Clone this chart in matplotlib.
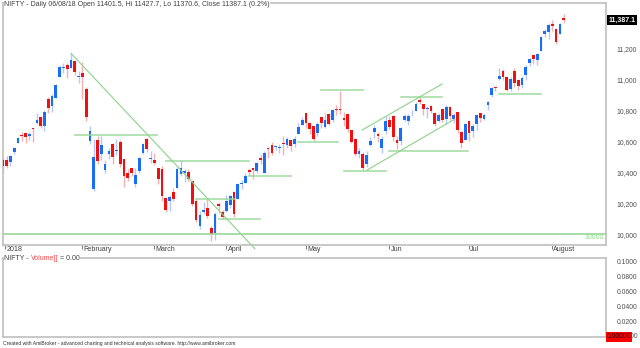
import numpy as np
import pandas as pd
import matplotlib
matplotlib.use('Agg')
import matplotlib.pyplot as plt

# trading days, 2018
jan_days = [1, 2, 3, 4, 5, 8, 9, 10, 11, 12, 15, 16, 17, 18, 19, 22, 23, 24, 25, 29, 30, 31]
feb_days = [1, 2, 5, 6, 7, 8, 9, 12, 14, 15, 16, 19, 20, 21, 22, 23, 26, 27, 28]
mar_days = [1, 5, 6, 7, 8, 9, 12, 13, 14, 15, 16, 19, 20, 21, 22, 23, 26, 27, 28]
apr_days = [2, 3, 4, 5, 6, 9, 10, 11, 12, 13, 16, 17, 18, 19, 20, 23, 24, 25, 26, 27, 30]
may_days = [2, 3, 4, 7, 8, 9, 10, 11, 14, 15, 16, 17, 18, 21, 22, 23, 24, 25, 28, 29, 30, 31]
jun_days = [1, 4, 5, 6, 7, 8, 11, 12, 13, 14, 15, 18, 19, 20, 21, 22, 25, 26, 27, 28, 29]
jul_days = [2, 3, 4, 5, 6, 9, 10, 11, 12, 13, 16, 17, 18, 19, 20, 23, 24, 25, 26, 27, 30, 31]
aug_days = [1, 2, 3, 6]

opens = [10531.70, 10477.55, 10482.65, 10469.40, 10534.25, 10591.70, 10645.10, 10652.05, 10637.05, 10682.55, 10718.50,
         10761.50, 10702.45, 10873.35, 10829.20, 10883.20, 11018.65, 11078.10, 11095.60, 11079.35, 11120.85, 11018.80,
         11044.55, 10938.20, 10604.30, 10295.15, 10607.20, 10518.50, 10416.50, 10518.20, 10585.75, 10537.90, 10596.20,
         10488.90, 10396.65, 10426.10, 10322.05, 10408.10, 10526.55, 10615.20, 10488.95,
         10479.95, 10428.30, 10420.50, 10232.95, 10216.25, 10271.30, 10301.60, 10389.50, 10393.05, 10405.45, 10345.15,
         10215.35, 10051.45, 10141.70, 10167.30, 10037.95, 10008.50, 10193.65, 10143.60,
         10151.65, 10186.85, 10274.20, 10228.45, 10322.75, 10333.70, 10412.90, 10428.15, 10410.65, 10495.30, 10398.30,
         10557.30, 10578.90, 10563.65, 10560.35, 10592.80, 10578.90, 10612.40, 10586.50, 10651.65, 10705.75,
         10783.85, 10720.15, 10700.45, 10653.15, 10757.90, 10693.35, 10779.65, 10741.05, 10812.40, 10812.05, 10751.20,
         10775.60, 10671.45, 10616.70, 10521.10, 10521.05, 10457.15, 10578.80, 10659.60, 10648.30, 10558.30, 10670.10,
         10738.45, 10765.85, 10611.95, 10603.40, 10737.05, 10736.15, 10781.85, 10800.10, 10868.50, 10840.35, 10813.45,
         10827.95, 10783.30, 10734.65, 10808.45, 10742.70, 10822.90, 10742.70, 10790.55, 10660.25, 10612.40,
         10732.35, 10668.60, 10715.00, 10786.05, 10744.15, 10838.30, 10902.70, 10956.40, 11006.95, 11056.90, 11019.50,
         10939.40, 11060.20, 10999.50, 10963.45, 11028.90, 11109.85, 11159.30, 11129.75, 11187.80, 11296.95, 11311.05,
         11359.80, 11328.10, 11297.80, 11401.50]
highs = [10537.85, 10495.20, 10503.60, 10513.00, 10566.10, 10631.20, 10659.15, 10655.50, 10664.60, 10690.40, 10782.65,
         10762.35, 10803.00, 10887.50, 10906.85, 10975.10, 11092.90, 11110.10, 11106.65, 11171.55, 11121.10, 11058.45,
         11117.35, 10954.95, 10702.75, 10614.00, 10635.65, 10637.80, 10480.20, 10555.50, 10590.55, 10618.80, 10612.90,
         10489.35, 10419.80, 10426.10, 10425.55, 10499.10, 10592.95, 10620.35, 10535.50,
         10525.50, 10428.65, 10441.35, 10243.35, 10255.45, 10296.70, 10433.65, 10478.60, 10420.35, 10420.10, 10346.30,
         10224.35, 10147.60, 10207.90, 10227.30, 10049.65, 10143.60, 10207.90, 10158.35,
         10254.30, 10255.35, 10277.40, 10331.80, 10350.45, 10397.75, 10424.85, 10428.15, 10469.80, 10519.90, 10540.00,
         10560.20, 10594.20, 10572.20, 10582.35, 10638.35, 10628.40, 10612.40, 10633.80, 10719.80, 10759.00,
         10784.65, 10720.60, 10700.45, 10725.65, 10758.55, 10785.55, 10785.25, 10812.05, 10834.85, 10929.20, 10790.45,
         10777.25, 10674.95, 10621.70, 10558.50, 10533.45, 10536.20, 10628.35, 10708.70, 10661.60, 10633.10, 10763.80,
         10764.95, 10773.70, 10637.80, 10691.95, 10779.15, 10779.35, 10806.60, 10856.65, 10893.25, 10843.90, 10830.80,
         10837.85, 10789.25, 10781.80, 10809.60, 10837.00, 10831.05, 10784.55, 10790.55, 10670.35, 10723.05,
         10736.15, 10713.30, 10777.15, 10786.05, 10785.45, 10860.35, 10956.35, 10956.55, 11078.30, 11071.35, 11019.50,
         11018.50, 11076.20, 11006.50, 11025.60, 11093.40, 11143.40, 11164.10, 11176.70, 11283.40, 11328.10, 11366.00,
         11390.55, 11328.10, 11367.65, 11427.65]
lows = [10423.10, 10404.65, 10429.55, 10441.45, 10520.10, 10588.55, 10603.60, 10592.70, 10612.35, 10597.10, 10713.80,
        10687.85, 10666.75, 10782.40, 10793.90, 10881.40, 11016.90, 11046.15, 11009.10, 11075.95, 11033.90, 10979.30,
        10878.80, 10736.10, 10586.80, 10276.30, 10456.65, 10479.55, 10398.20, 10485.40, 10456.65, 10511.50, 10434.80,
        10302.75, 10341.70, 10377.70, 10302.55, 10396.65, 10520.35, 10534.70, 10461.35,
        10447.15, 10323.90, 10215.90, 10141.55, 10146.40, 10211.90, 10295.45, 10377.85, 10336.30, 10346.20, 10180.25,
        10075.30, 10035.25, 10132.80, 10105.45, 9951.90, 9958.55, 10139.30, 10096.90,
        10140.85, 10171.30, 10111.30, 10227.45, 10290.85, 10328.50, 10381.50, 10355.60, 10395.75, 10451.05, 10396.30,
        10495.75, 10509.70, 10546.20, 10527.45, 10514.95, 10559.65, 10536.45, 10562.90, 10647.55, 10704.60,
        10689.80, 10647.45, 10601.60, 10635.65, 10689.40, 10688.35, 10705.20, 10724.35, 10774.75, 10781.40, 10699.70,
        10664.65, 10589.10, 10505.80, 10490.55, 10417.80, 10433.10, 10569.80, 10620.55, 10594.80, 10528.35, 10647.80,
        10681.80, 10603.70, 10550.90, 10579.50, 10729.95, 10709.80, 10762.55, 10798.90, 10842.65, 10773.05, 10750.45,
        10782.75, 10701.20, 10724.05, 10725.80, 10710.45, 10736.95, 10716.80, 10652.40, 10557.70, 10612.35,
        10604.65, 10630.25, 10677.75, 10726.25, 10740.15, 10807.15, 10887.10, 10925.60, 10999.65, 10999.75, 10925.60,
        10925.60, 10956.30, 10935.45, 10946.20, 10999.30, 11092.50, 11103.70, 11094.85, 11184.80, 11278.35, 11267.75,
        11313.45, 11234.95, 11294.55, 11370.60]
closes = [10435.55, 10442.20, 10443.20, 10504.80, 10558.85, 10623.60, 10637.00, 10632.20, 10651.20, 10681.25, 10741.55,
          10700.45, 10788.55, 10817.00, 10894.70, 10966.20, 11083.70, 11086.00, 11069.65, 11130.40, 11049.65, 11027.70,
          11016.90, 10760.60, 10666.55, 10498.25, 10476.70, 10576.85, 10454.55, 10539.75, 10500.90, 10545.50, 10452.30,
          10378.40, 10360.40, 10397.45, 10382.70, 10491.05, 10582.60, 10554.30, 10492.85,
          10458.35, 10358.85, 10249.25, 10154.20, 10242.65, 10226.85, 10421.40, 10426.85, 10410.90, 10360.15, 10195.15,
          10094.25, 10124.35, 10155.25, 10114.75, 9998.05, 10130.65, 10184.15, 10113.70,
          10211.80, 10245.00, 10128.40, 10325.15, 10331.60, 10379.35, 10402.25, 10417.15, 10458.65, 10480.60, 10528.35,
          10548.70, 10526.20, 10565.30, 10564.05, 10584.70, 10614.35, 10570.55, 10617.80, 10692.30, 10739.35,
          10718.05, 10679.65, 10618.25, 10715.50, 10717.80, 10741.70, 10716.55, 10806.50, 10806.60, 10801.85, 10741.10,
          10682.70, 10596.40, 10516.70, 10536.70, 10430.35, 10513.85, 10605.15, 10688.65, 10633.30, 10614.35, 10736.15,
          10696.20, 10628.50, 10593.15, 10684.65, 10768.35, 10767.65, 10786.95, 10842.85, 10856.70, 10808.05, 10817.70,
          10799.85, 10710.45, 10772.05, 10741.10, 10821.85, 10762.45, 10769.15, 10671.40, 10589.10, 10714.30,
          10657.30, 10699.90, 10769.90, 10749.75, 10772.65, 10852.90, 10947.25, 10948.30, 11023.20, 11018.90, 10936.85,
          11008.05, 10980.45, 10957.10, 11010.20, 11084.75, 11134.30, 11132.00, 11167.30, 11278.35, 11319.55, 11356.50,
          11346.20, 11244.70, 11360.80, 11387.10]

month_labels = ['2018', 'February', 'March', 'April', 'May', 'Jun', 'Jul', 'August']
price_ticks = [10000, 10200, 10400, 10600, 10800, 11000, 11200, 11400]
vol_ticks = [0.02, 0.04, 0.06, 0.08, 0.10]

# hand-drawn lines: price, from bar, to bar
hlines = [(10640, 20.0, 41.7), (10473, 44.1, 66.0), (10225, 52.0, 62.3), (10095, 58.0, 68.9),
          (10376, 66.0, 77.0), (10599, 78.9, 89.4), (10935, 85.0, 96.0), (10410, 91.0, 102.1),
          (10890, 106.1, 116.9), (10538, 102.9, 123.7), (10908, 131.9, 143.0)]
trend_lines = [((19, 11171.55), (67.5, 9905)),
               ((95.8, 10674), (116.9, 10973)),
               ((97.1, 10415), (120.3, 10746))]

font = 'Liberation Sans'
plt.rcParams['font.family'] = font

dates = pd.to_datetime(['2018-%02d-%02d' % (m, d)
                        for m, days in enumerate([jan_days, feb_days, mar_days, apr_days,
                                                  may_days, jun_days, jul_days, aug_days], 1)
                        for d in days])
o = np.array(opens); h = np.array(highs); l = np.array(lows); c = np.array(closes)
x = np.arange(len(dates))
up = c >= o

fig = plt.figure(figsize=(6.4, 3.48), dpi=100)
W, H = 640, 348
ax = fig.add_axes([3 / W, 1 - 245 / H, 603 / W, 242 / H])
ax2 = fig.add_axes([3 / W, 1 - 337 / H, 603 / W, 79 / H])

ax.set_xlim(1.055, 160.16)
ax.set_ylim(9929, 11498)

blue, red = '#1a6ef5', '#f01010'
pblue, pred = '#b4c9f5', '#f7b0b0'
green = '#98d898'

ax.vlines(x, l, h, colors=np.where(up, pblue, pred), lw=1, zorder=2)
body = np.maximum(np.abs(c - o), 6)
ax.bar(x, body, bottom=np.minimum(o, c), width=0.72, color=np.where(up, blue, red), lw=0, zorder=3)

for y, x0, x1 in hlines:
    ax.plot([x0, x1], [y, y], color=green, lw=1.2, alpha=0.85, zorder=4)
for (x0, y0), (x1, y1) in trend_lines:
    ax.plot([x0, x1], [y0, y1], color='#8ad48a', lw=0.8, zorder=4, clip_on=False)
ax.axhline(10000, color=green, lw=1.2, zorder=4)
ax.text(0.997, 10000, '10000', transform=ax.get_yaxis_transform(), ha='right', va='top',
        fontsize=5, color='#88d888')

for a in (ax, ax2):
    for s in a.spines.values():
        s.set_color('#c4c4c4')
        s.set_linewidth(1.3)
    a.yaxis.tick_right()
    a.tick_params(axis='y', length=0, pad=7.5, labelsize=4.9, labelcolor='#505050')

ax.set_yticks(price_ticks)
ax.set_yticklabels(['{:,}'.format(v) for v in price_ticks])

# month ticks along the bottom
starts = np.r_[0, np.flatnonzero(np.diff(dates.month)) + 1].astype(float)
starts[0] = 1.6
ax.set_xticks(starts)
ax.set_xticklabels([])
ax.tick_params(axis='x', length=3, color='#808080', width=0.8)
trans = ax.get_xaxis_transform()
for xs, lab in zip(starts, month_labels):
    ax.text(xs + 0.3, -0.006, lab, transform=trans, ha='left', va='top',
            fontsize=5.1, color='#404040')

ax.text(0.002, 1.0 - 1.2 / 242, 'NIFTY - Daily 06/08/18 Open 11401.5, Hi 11427.7, Lo 11370.6, Close 11387.1 (0.2%)',
        transform=ax.transAxes, ha='left', va='center', fontsize=5, color='#404040',
        bbox=dict(facecolor='white', edgecolor='none', pad=0.3), zorder=10)

ax.text(1.0 + 2.5 / 603, closes[-1], '{:,.1f}'.format(closes[-1]), transform=ax.get_yaxis_transform(),
        ha='left', va='center', fontsize=5, color='white', fontweight='bold',
        bbox=dict(facecolor='black', edgecolor='none', pad=0.9), zorder=10, clip_on=False)

# volume pane (empty)
ax2.set_xlim(ax.get_xlim())
ax2.set_ylim(0, 0.104)
ax2.set_xticks([])
ax2.set_yticks(vol_ticks)
ax2.set_yticklabels(['%.4f' % v for v in vol_ticks])
ax2.text(1.0 + 12 / 603, 0.0, '0.0000', transform=ax2.get_yaxis_transform(), ha='left', va='center',
         fontsize=4.9, color='#505050', clip_on=False)
ax2.text(1.0 + 1 / 603, 0.0, '0.00000', transform=ax2.get_yaxis_transform(), ha='left', va='center',
         fontsize=4.9, color='#300000', clip_on=False,
         bbox=dict(facecolor='#ff0000', edgecolor='none', pad=0.8), zorder=10)

t1 = ax2.text(0.002, 1.0 - 1 / 79, 'NIFTY - ', transform=ax2.transAxes, ha='left', va='center', fontsize=5,
              color='#404040', bbox=dict(facecolor='white', edgecolor='none', pad=0.3))
t2 = ax2.annotate('Volume[]', xy=(1, 0.5), xycoords=t1, ha='left', va='center', fontsize=5,
                  color='#ff4848', bbox=dict(facecolor='white', edgecolor='none', pad=0.3))
ax2.annotate(' = 0.00', xy=(1, 0.5), xycoords=t2, ha='left', va='center', fontsize=5,
             color='#404040', bbox=dict(facecolor='white', edgecolor='none', pad=0.3))

fig.text(3 / W, 1 - 343 / H, 'Created with AmiBroker - advanced charting and technical analysis software. '
         'http://www.amibroker.com', ha='left', va='center', fontsize=3.6, color='#303030')

fig.savefig('out.png', dpi=100)
